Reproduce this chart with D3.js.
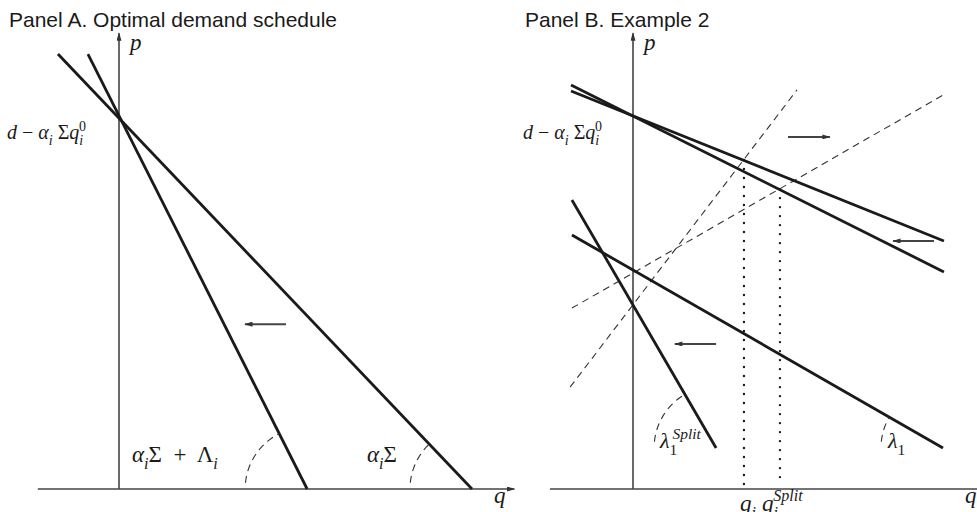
<!DOCTYPE html>
<html lang="en">
<head>
<meta charset="UTF-8">
<title>Optimal demand schedule</title>
<script src="https://d3js.org/d3.v7.min.js"></script>
<style>
  body { margin: 0; padding: 0; background: #fff; overflow: hidden; }
  svg { display: block; }
  .title { font-family: "Liberation Sans", Arial, Helvetica, sans-serif; font-size: 21px; fill: #1a1a1a; }
  .math { font-family: "Liberation Serif", "Times New Roman", serif; fill: #1a1a1a; white-space: pre; }
</style>
</head>
<body>
<svg id="vis"></svg>
<script>
const width = 977, height = 512;

// ---- data, in (q, p) units of each panel ----
// Panel A: two demand schedules through the same intercept
const linesA = [
  [[-1.73, 11.66], [10, 0]],     // slope alpha_i Sigma
  [[-0.88, 11.66], [5.33, 0]]    // slope alpha_i Sigma + Lambda_i
];
const arrowA = [[4.73, 4.42], [3.57, 4.42]];
const axisA = { q: [-2.3, 11.2], p: [0, 12.22] };

// Panel B: solid schedules, dashed supply lines, dotted quantities
const linesB = [
  [[-2.0, 10.67], [10.03, 6.65]],
  [[-2.0, 10.83], [10.03, 5.82]],
  [[-1.97, 7.75], [2.68, 1.10]],   // lambda_1^Split
  [[-1.97, 6.81], [10.0, 1.10]]    // lambda_1
];
const dashedB = [
  [[-2.03, 2.73], [5.29, 10.70]],
  [[-1.97, 4.85], [10.0, 10.56]]
];
const dottedB = [
  [[3.58, 8.82], [3.58, 0.05]],    // q_i
  [[4.74, 8.04], [4.74, 0.27]]     // q_i^Split
];
const arrowsB = [
  [[5.0, 9.44], [6.35, 9.44]],
  [[9.71, 6.65], [8.39, 6.65]],
  [[2.68, 3.89], [1.35, 3.89]]
];
const axisB = { q: [-2.68, 11.6], p: [0, 12.22] };

const svg = d3.select("#vis").attr("width", width).attr("height", height);

const defs = svg.append("defs");
defs.append("marker")
    .attr("id", "head")
    .attr("viewBox", "0 0 10 6")
    .attr("refX", 9).attr("refY", 3)
    .attr("markerWidth", 9).attr("markerHeight", 5)
    .attr("markerUnits", "userSpaceOnUse")
    .attr("orient", "auto")
    .append("path").attr("d", "M0,0 L10,3 L0,6 z").attr("fill", "#333");

function mathLabel(parent, x, y, parts, size) {
    const text = parent.append("text").attr("class", "math")
        .attr("x", x).attr("y", y).style("font-size", `${size}px`);
    let shift = 0;
    parts.forEach(([str, flags = []]) => {
        const span = text.append("tspan").text(str);
        if (flags.includes("it")) span.style("font-style", "italic");
        let target = 0;
        if (flags.includes("sub")) target = size * 0.3;
        if (flags.includes("sup")) target = -size * 0.42;
        if (target !== 0) span.style("font-size", `${size * 0.7}px`);
        span.attr("dy", target - shift);
        shift = target;
        if (flags.includes("back")) span.attr("dx", -size * 0.7 * 0.3);
    });
}

function drawArc(g, center, toward, r) {
    const a1 = Math.atan2(toward[1] - center[1], toward[0] - center[0]);
    const a0 = -Math.PI + 0.1;
    const pts = d3.range(0, 1.0001, 0.05).map(t => {
        const a = a0 + (a1 - a0) * t;
        return [center[0] + r * Math.cos(a), center[1] + r * Math.sin(a)];
    });
    g.append("path").attr("d", d3.line()(pts))
        .attr("fill", "none").attr("stroke", "#333")
        .attr("stroke-width", 1.1).attr("stroke-dasharray", "7,5");
}

function panel(x, y, axis, title, titleX) {
    const g = svg.append("g");
    const line = d3.line().x(d => x(d[0])).y(d => y(d[1]));

    g.append("text").attr("class", "title").attr("x", titleX).attr("y", 27).text(title);

    // axes
    g.append("line")
        .attr("x1", x(axis.q[0])).attr("x2", x(axis.q[1]))
        .attr("y1", y(0)).attr("y2", y(0))
        .attr("stroke", "#444").attr("stroke-width", 1.6)
        .attr("marker-end", "url(#head)");
    g.append("line")
        .attr("x1", x(0)).attr("x2", x(0))
        .attr("y1", y(axis.p[0])).attr("y2", y(axis.p[1]))
        .attr("stroke", "#444").attr("stroke-width", 1.6)
        .attr("marker-end", "url(#head)");

    mathLabel(g, x(0) + 11, 50, [["p", ["it"]]], 23);
    mathLabel(g, titleX - 2, 139, [
        ["d", ["it"]], [" − "], ["α", ["it"]], ["i", ["it", "sub"]],
        [" Σ"], ["q", ["it"]], ["i", ["it", "sub"]], ["0", ["sup", "back"]]
    ], 20);

    return { g, line };
}

// ---- Panel A ----
const xA = d3.scaleLinear().domain([0, 10]).range([119, 472]);
const yA = d3.scaleLinear().domain([0, 10]).range([489, 116]);
const pA = panel(xA, yA, axisA, "Panel A. Optimal demand schedule", 9);

pA.g.selectAll(".demand").data(linesA).join("path")
    .attr("class", "demand")
    .attr("d", pA.line)
    .attr("fill", "none").attr("stroke", "#1a1a1a").attr("stroke-width", 2.8);

linesA.forEach(l => {
    const foot = [xA(l[1][0]), yA(l[1][1])];
    drawArc(pA.g, foot, [xA(l[0][0]), yA(l[0][1])], 62);
});

pA.g.append("path").attr("d", pA.line(arrowA))
    .attr("stroke", "#444").attr("stroke-width", 2).attr("marker-end", "url(#head)");

mathLabel(pA.g, 132, 462, [["α", ["it"]], ["i", ["it", "sub"]], ["Σ  +  Λ"], ["i", ["it", "sub"]]], 23);
mathLabel(pA.g, 367, 462, [["α", ["it"]], ["i", ["it", "sub"]], ["Σ"]], 23);
mathLabel(pA.g, 494, 503, [["q", ["it"]]], 23);

// ---- Panel B ----
const xB = d3.scaleLinear().domain([0, 10]).range([633, 943]);
const yB = d3.scaleLinear().domain([0, 10]).range([489, 116]);
const pB = panel(xB, yB, axisB, "Panel B. Example 2", 525);

pB.g.selectAll(".supply").data(dashedB).join("path")
    .attr("class", "supply")
    .attr("d", pB.line)
    .attr("fill", "none").attr("stroke", "#333")
    .attr("stroke-width", 1.1).attr("stroke-dasharray", "7,5");

pB.g.selectAll(".qty").data(dottedB).join("path")
    .attr("class", "qty")
    .attr("d", pB.line)
    .attr("fill", "none").attr("stroke", "#1a1a1a")
    .attr("stroke-width", 2.4).attr("stroke-linecap", "round")
    .attr("stroke-dasharray", "0,9");

pB.g.selectAll(".demand").data(linesB).join("path")
    .attr("class", "demand")
    .attr("d", pB.line)
    .attr("fill", "none").attr("stroke", "#1a1a1a").attr("stroke-width", 2.8);

[linesB[2], linesB[3]].forEach(l => {
    const end = [xB(l[1][0]), yB(l[1][1])];
    drawArc(pB.g, end, [xB(l[0][0]), yB(l[0][1])], 62);
});

pB.g.selectAll(".shift").data(arrowsB).join("path")
    .attr("class", "shift")
    .attr("d", pB.line)
    .attr("stroke", "#444").attr("stroke-width", 2).attr("marker-end", "url(#head)");

mathLabel(pB.g, 660, 448, [["λ", ["it"]], ["1", ["sub"]], ["Split", ["it", "sup", "back"]]], 22);
mathLabel(pB.g, 888, 448, [["λ", ["it"]], ["1", ["sub"]]], 22);
mathLabel(pB.g, 740, 511, [["q", ["it"]], ["i", ["it", "sub"]]], 23);
mathLabel(pB.g, 762, 511, [["q", ["it"]], ["i", ["it", "sub"]], ["Split", ["it", "sup", "back"]]], 23);
mathLabel(pB.g, 965, 503, [["q", ["it"]]], 23);
</script>
</body>
</html>
